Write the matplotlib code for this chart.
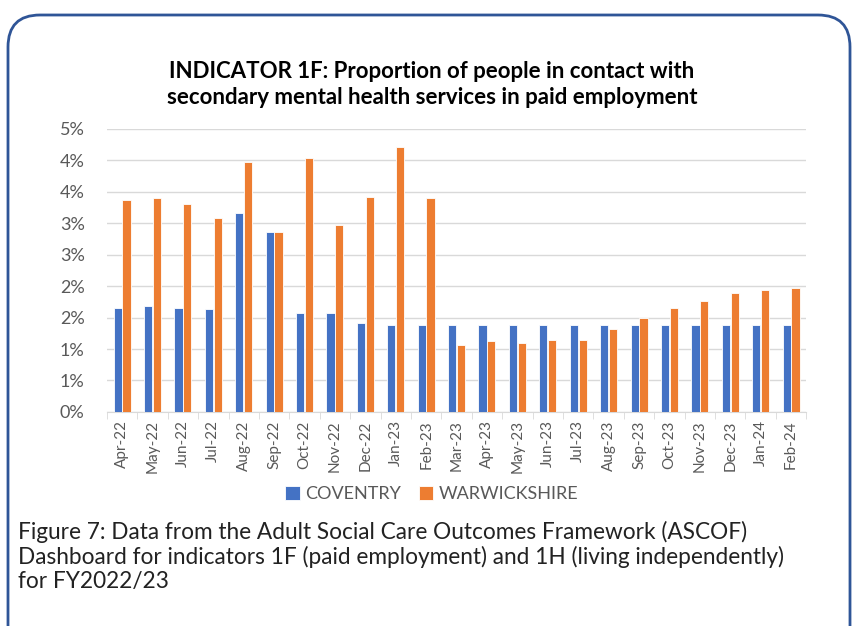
import matplotlib.pyplot as plt
from matplotlib.patches import FancyBboxPatch
from matplotlib.transforms import IdentityTransform
import numpy as np

# monthly figures, proportion in paid employment (%)
months = ["Apr-22", "May-22", "Jun-22", "Jul-22", "Aug-22", "Sep-22", "Oct-22",
          "Nov-22", "Dec-22", "Jan-23", "Feb-23", "Mar-23", "Apr-23", "May-23",
          "Jun-23", "Jul-23", "Aug-23", "Sep-23", "Oct-23", "Nov-23", "Dec-23",
          "Jan-24", "Feb-24"]
coventry = [1.66, 1.69, 1.66, 1.63, 3.17, 2.86, 1.58, 1.58, 1.42, 1.38, 1.38,
            1.38, 1.38, 1.38, 1.38, 1.38, 1.38, 1.38, 1.38, 1.38, 1.38, 1.38, 1.38]
warwickshire = [3.37, 3.40, 3.31, 3.09, 3.98, 2.86, 4.04, 2.98, 3.42, 4.21, 3.40,
                1.07, 1.13, 1.10, 1.15, 1.15, 1.32, 1.49, 1.66, 1.77, 1.89, 1.94, 1.97]
y_ticks = [0, 0.5, 1, 1.5, 2, 2.5, 3, 3.5, 4, 4.5]
y_labels = ["0%", "1%", "1%", "2%", "2%", "3%", "3%", "4%", "4%", "5%"]

title = ("INDICATOR 1F: Proportion of people in contact with\n"
         "secondary mental health services in paid employment")
caption = ("Figure 7: Data from the Adult Social Care Outcomes Framework (ASCOF)\n"
           "Dashboard for indicators 1F (paid employment) and 1H (living independently)\n"
           "for FY2022/23")

plt.rcParams["font.family"] = ["Lato", "DejaVu Sans"]

fig = plt.figure(figsize=(8.55, 6.26), dpi=100)

# rounded frame around the figure
frame = FancyBboxPatch((8, -100), 842, 611 + 100,
                       boxstyle="round,pad=0,rounding_size=32",
                       transform=IdentityTransform(), fill=False,
                       edgecolor="#2F5597", linewidth=2)
fig.patches.append(frame)

ax = fig.add_axes([0.125, 0.342, 0.818, 0.452])
x = np.arange(len(months))
ax.bar(x - 0.145, coventry, width=0.27, color="#4472C4", edgecolor="white",
       linewidth=0.6, label="COVENTRY", zorder=3)
ax.bar(x + 0.145, warwickshire, width=0.27, color="#ED7D31", edgecolor="white",
       linewidth=0.6, label="WARWICKSHIRE", zorder=3)

ax.set_xlim(-0.5, len(months) - 0.5)
ax.set_ylim(0, 4.5)
ax.set_yticks(y_ticks)
ax.set_yticklabels(y_labels)
ax.grid(axis="y", color="#D9D9D9", linewidth=1, zorder=0)
for side in ["top", "right", "left"]:
    ax.spines[side].set_visible(False)
ax.spines["bottom"].set_color("#D9D9D9")
ax.tick_params(axis="y", length=0, labelsize=13, labelcolor="#595959", pad=16)

ax.set_xticks(x)
ax.set_xticklabels(months, rotation=90)
ax.set_xticks(np.arange(-0.5, len(months)), minor=True)
ax.tick_params(axis="x", which="major", length=0, labelsize=11,
               labelcolor="#595959", pad=6)
ax.tick_params(axis="x", which="minor", length=5, color="#D9D9D9")

fig.text(0.505, 0.865, title, ha="center", va="center", fontsize=16,
         fontweight="bold", color="black", linespacing=1.35)

fig.legend(loc="center", bbox_to_anchor=(0.505, 0.211), ncol=2, frameon=False,
           fontsize=13, handlelength=0.8, handleheight=0.8, handletextpad=0.3,
           columnspacing=1.0, labelcolor="#595959")

fig.text(0.021, 0.111, caption, ha="left", va="center", fontsize=16.3,
         color="#222222", linespacing=1.17)

fig.savefig("out.png", dpi=100)
